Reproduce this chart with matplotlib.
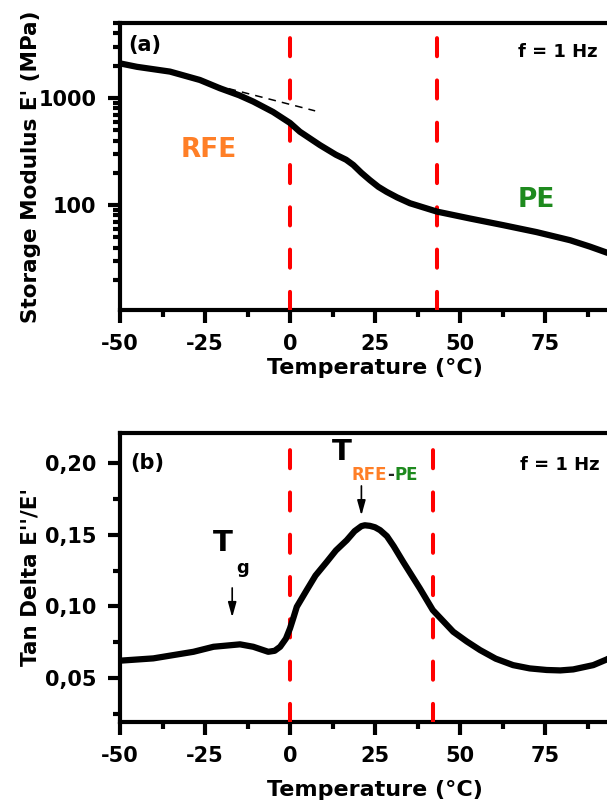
import numpy as np
import matplotlib
matplotlib.use('Agg')
import matplotlib.pyplot as plt
from matplotlib.ticker import FixedLocator, FuncFormatter, LogLocator, NullFormatter, MultipleLocator

plt.rcParams['font.family'] = ['DejaVu Sans']
plt.rcParams['font.weight'] = 'bold'
plt.rcParams['axes.unicode_minus'] = False

# (a) storage modulus
temp_a = [-50, -45, -35.3, -26.5, -20.6, -15, -10.8, -5, 0, 2.9, 8.8, 13.5, 16.5, 18.6, 21,
          23.5, 26, 28.4, 31.5, 35.3, 43.2, 52.9, 62.7, 72.5, 82.4, 88.2, 93.2, 100]
modulus = [2100, 1950, 1760, 1470, 1230, 1060, 924, 740, 584, 484, 363, 295, 265, 237, 200,
           171, 148, 133, 118, 104, 87, 75, 65, 56, 47, 41, 36, 31]
tangent_t = [-22, 7.4]
tangent_e = [1315, 757]

# (b) tan delta
temp_b = [-50, -40.2, -28.4, -22.5, -14.7, -10.8, -6.4, -4.5, -2.9, -1.2, 0, 1, 2, 4.9, 7.5,
          10.8, 13.5, 16.7, 19, 21, 22, 23.5, 25, 26.5, 28.5, 30.5, 33.3, 38.2, 42, 48, 52,
          55.9, 60.5, 65.6, 70.5, 75.5, 79.5, 83.3, 89.2, 93.2, 100]
tan_delta = [0.0621, 0.0637, 0.0683, 0.0718, 0.0735, 0.0718, 0.0683, 0.0690, 0.0718, 0.0775,
             0.0846, 0.092, 0.0997, 0.1113, 0.1215, 0.131, 0.139, 0.1462, 0.1525, 0.1560,
             0.1566, 0.1562, 0.1552, 0.1532, 0.149, 0.142, 0.131, 0.1125, 0.0974, 0.0823,
             0.0755, 0.0695, 0.0635, 0.059, 0.0567, 0.0556, 0.0553, 0.056, 0.059, 0.063, 0.072]

xticks = [-50, -25, 0, 25, 50, 75]
red = '#ff0000'
orange = '#ff7f27'
green = '#1e8a1e'

fig = plt.figure(figsize=(6.07, 8.06), dpi=100)
ax1 = fig.add_axes([120/607, 1-310/806, 510/607, 287/806])
ax2 = fig.add_axes([120/607, 1-722/806, 510/607, 289/806])


def style(ax, lpad):
    for s in ['left', 'bottom', 'top', 'right']:
        ax.spines[s].set_linewidth(3)
    ax.set_xlim(-50, 100)
    ax.xaxis.set_major_locator(FixedLocator(xticks + [100]))
    ax.xaxis.set_major_formatter(FuncFormatter(lambda v, p: '' if v > 90 else f'{v:.0f}'))
    ax.xaxis.set_minor_locator(MultipleLocator(12.5))
    ax.tick_params(which='major', direction='out', length=9, width=3, labelsize=15, pad=8)
    ax.tick_params(which='minor', direction='out', length=5, width=3)
    ax.tick_params(top=False, right=False, which='both')
    ax.set_xlabel('Temperature (°C)', fontsize=16, fontweight='bold', labelpad=lpad)
    for lab in ax.get_xticklabels() + ax.get_yticklabels():
        lab.set_fontweight('bold')


def redline(ax, x):
    ax.axvline(x, color=red, lw=2.9, dashes=(4.5, 6), dash_capstyle='round', zorder=3)


# --- top panel
ax1.semilogy(temp_a, modulus, color='black', lw=4.5, solid_capstyle='round',
             solid_joinstyle='round', zorder=4)
ax1.plot(tangent_t, tangent_e, color='black', lw=1.1, dashes=(5, 4), zorder=5)
ax1.set_ylim(10.5, 5000)
ax1.yaxis.set_major_locator(FixedLocator([100, 1000]))
ax1.yaxis.set_major_formatter(FuncFormatter(lambda v, p: f'{v:.0f}'))
ax1.yaxis.set_minor_locator(LogLocator(base=10, subs=np.arange(2, 10)))
ax1.yaxis.set_minor_formatter(NullFormatter())
style(ax1, 3)
redline(ax1, 0)
redline(ax1, 43.2)
ax1.set_ylabel("Storage Modulus E' (MPa)", fontsize=15.5, fontweight='bold')
ax1.yaxis.set_label_coords(-0.155, 0.5)
ax1.text(0.016, 0.923, '(a)', transform=ax1.transAxes, fontsize=15, va='center')
ax1.text(0.78, 0.899, 'f = 1 Hz', transform=ax1.transAxes, fontsize=13, va='center')
ax1.text(0.118, 0.557, 'RFE', transform=ax1.transAxes, fontsize=19, va='center', color=orange)
ax1.text(0.78, 0.383, 'PE', transform=ax1.transAxes, fontsize=19, va='center', color=green)

# --- bottom panel
ax2.plot(temp_b, tan_delta, color='black', lw=4.5, solid_capstyle='round',
         solid_joinstyle='round', zorder=4)
ax2.set_ylim(0.0193, 0.221)
ax2.yaxis.set_major_locator(FixedLocator([0.05, 0.10, 0.15, 0.20]))
ax2.yaxis.set_minor_locator(FixedLocator([0.025, 0.075, 0.125, 0.175]))
ax2.yaxis.set_major_formatter(FuncFormatter(lambda v, p: f'{v:.2f}'.replace('.', ',')))
style(ax2, 10)
redline(ax2, 0)
redline(ax2, 42)
ax2.set_ylabel("Tan Delta E''/E'", fontsize=15.5, fontweight='bold')
ax2.yaxis.set_label_coords(-0.155, 0.5)
ax2.text(0.02, 0.896, '(b)', transform=ax2.transAxes, fontsize=15, va='center')
ax2.text(0.784, 0.889, 'f = 1 Hz', transform=ax2.transAxes, fontsize=13, va='center')

arrow = dict(arrowstyle='-|>,head_length=0.9,head_width=0.25', color='black', lw=1.2)
ax2.annotate('', xy=(-17, 0.0904), xytext=(-17, 0.1148), arrowprops=arrow)
ax2.annotate('', xy=(21, 0.1615), xytext=(21, 0.186), arrowprops=arrow)
ax2.text(-19.7, 0.144, 'T', fontsize=21, ha='center', va='center')
ax2.text(-13.8, 0.127, 'g', fontsize=13, ha='center', va='center')
ax2.text(15.3, 0.208, 'T', fontsize=21, ha='center', va='center')
t1 = ax2.text(18.2, 0.192, 'RFE', fontsize=12, va='center', color=orange)
fig.canvas.draw()
t2 = ax2.annotate('-', xycoords=t1, xy=(1, 0.5), va='center', fontsize=12, color='#222222')
fig.canvas.draw()
ax2.annotate('PE', xycoords=t2, xy=(1, 0.5), va='center', fontsize=12, color=green)

fig.savefig('out.png', dpi=100)
